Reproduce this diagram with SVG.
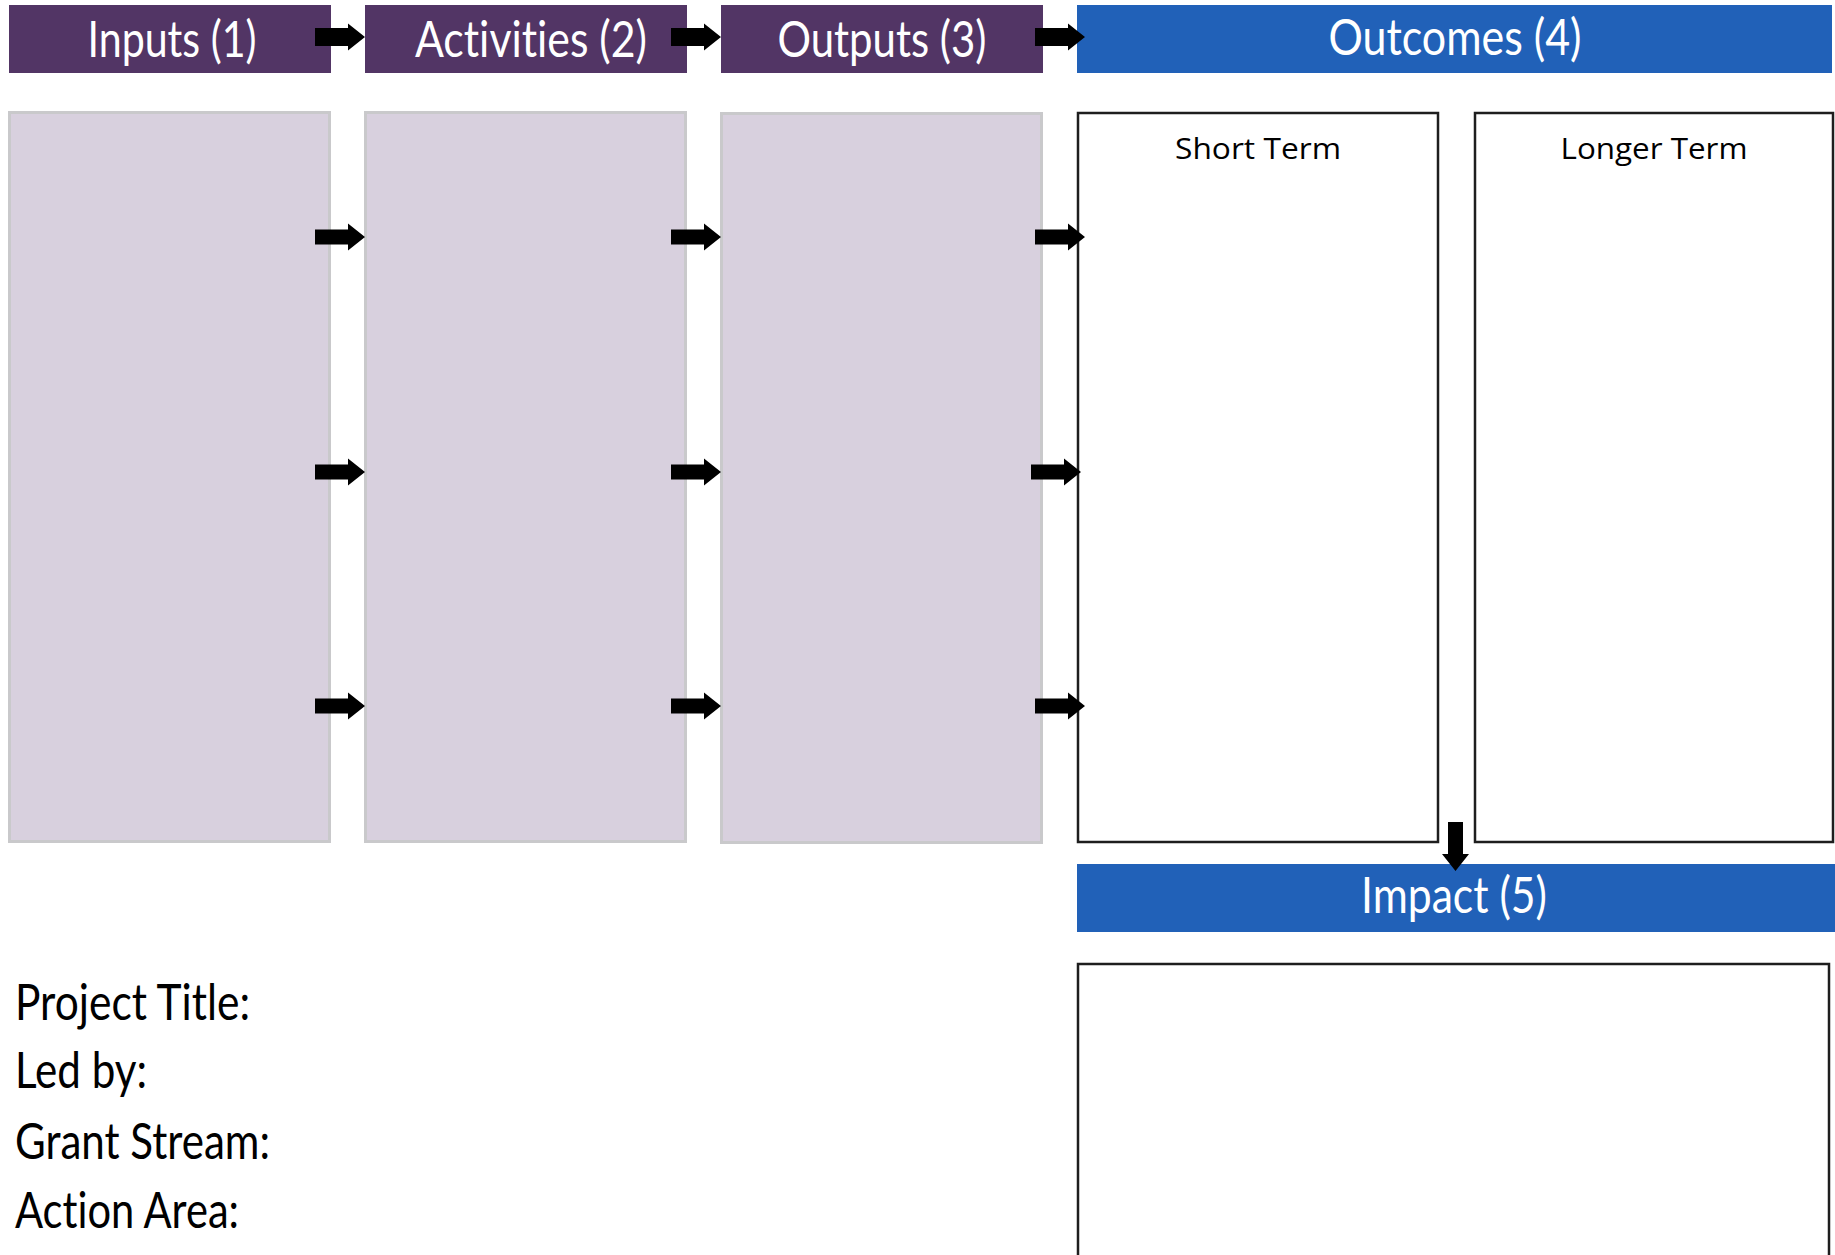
<svg xmlns="http://www.w3.org/2000/svg" width="1835" height="1255" viewBox="0 0 1835 1255">
<style>
.hdr{fill:#523565}
.blue{fill:#2161b8}
.box{fill:#d8d0de;stroke:#c9c9cb;stroke-width:3}
.obox{fill:#fff;stroke:#1e1e1e;stroke-width:2.5}
.ht{font-family:Lato,"Open Sans",sans-serif;font-size:51px;fill:#fff;text-anchor:middle;font-variant-ligatures:none;font-feature-settings:"liga" 0,"dlig" 0}
.lt{font-family:Lato,"Open Sans",sans-serif;font-size:51px;fill:#000;font-variant-ligatures:none;font-feature-settings:"liga" 0,"dlig" 0}
.st{font-family:"Open Sans","Noto Sans",sans-serif;font-size:30px;fill:#000;text-anchor:middle}
.arr{fill:#000}
</style>
<defs>
<path id="ah" d="M0,-9 H33 V-13.5 L50,0 L33,13.5 V9 H0 Z"/>
<path id="ab" d="M0,-7.5 H33 V-13.5 L50,0 L33,13.5 V7.5 H0 Z"/>
</defs>
<rect width="1835" height="1255" fill="#fff"/>
<g id="inputs">
<rect class="hdr" x="9" y="5" width="322" height="68"/>
<text class="ht" x="172" y="57" textLength="169" lengthAdjust="spacingAndGlyphs">Inputs (1)</text>
<rect class="box" x="9.5" y="112.5" width="320" height="729"/>
</g>
<g id="activities">
<rect class="hdr" x="365" y="5" width="322" height="68"/>
<text class="ht" x="531" y="57" textLength="232" lengthAdjust="spacingAndGlyphs">Activities (2)</text>
<rect class="box" x="365.5" y="112.5" width="320" height="729"/>
</g>
<g id="outputs">
<rect class="hdr" x="721" y="5" width="322" height="68"/>
<text class="ht" x="882" y="57" textLength="209" lengthAdjust="spacingAndGlyphs">Outputs (3)</text>
<rect class="box" x="721.5" y="113.5" width="320" height="729"/>
</g>
<g id="outcomes">
<rect class="blue" x="1077" y="5" width="755" height="68"/>
<text class="ht" x="1455" y="55" textLength="253" lengthAdjust="spacingAndGlyphs">Outcomes (4)</text>
</g>
<g id="short-term">
<rect class="obox" x="1078" y="113" width="360" height="729"/>
<text class="st" x="1258" y="159" textLength="166" lengthAdjust="spacingAndGlyphs">Short Term</text>
</g>
<g id="longer-term">
<rect class="obox" x="1475" y="113" width="358" height="729"/>
<text class="st" x="1654" y="159" textLength="187" lengthAdjust="spacingAndGlyphs">Longer Term</text>
</g>
<g id="impact">
<rect class="blue" x="1077" y="864" width="758" height="68"/>
<text class="ht" x="1454" y="913" textLength="186" lengthAdjust="spacingAndGlyphs">Impact (5)</text>
<rect class="obox" x="1078" y="964" width="751" height="300"/>
</g>
<g id="project-info">
<text class="lt" x="15" y="1020" textLength="235" lengthAdjust="spacingAndGlyphs">Project Title:</text>
<text class="lt" x="15" y="1088" textLength="132" lengthAdjust="spacingAndGlyphs">Led by:</text>
<text class="lt" x="15" y="1159" textLength="255" lengthAdjust="spacingAndGlyphs">Grant Stream:</text>
<text class="lt" x="15" y="1228" textLength="224" lengthAdjust="spacingAndGlyphs">Action Area:</text>
</g>
<g id="connectors" class="arr">
<use href="#ah" x="315" y="37"/>
<use href="#ah" x="671" y="37"/>
<use href="#ah" x="1035" y="37"/>
<use href="#ab" x="315" y="237"/>
<use href="#ab" x="671" y="237"/>
<use href="#ab" x="1035" y="237"/>
<use href="#ab" x="315" y="472"/>
<use href="#ab" x="671" y="472"/>
<use href="#ab" x="1031" y="472"/>
<use href="#ab" x="315" y="706"/>
<use href="#ab" x="671" y="706"/>
<use href="#ab" x="1035" y="706"/>
<path d="M1448,822 V854 H1442 L1455.5,871 L1469,854 H1463 V822 Z"/>
</g>
</svg>
